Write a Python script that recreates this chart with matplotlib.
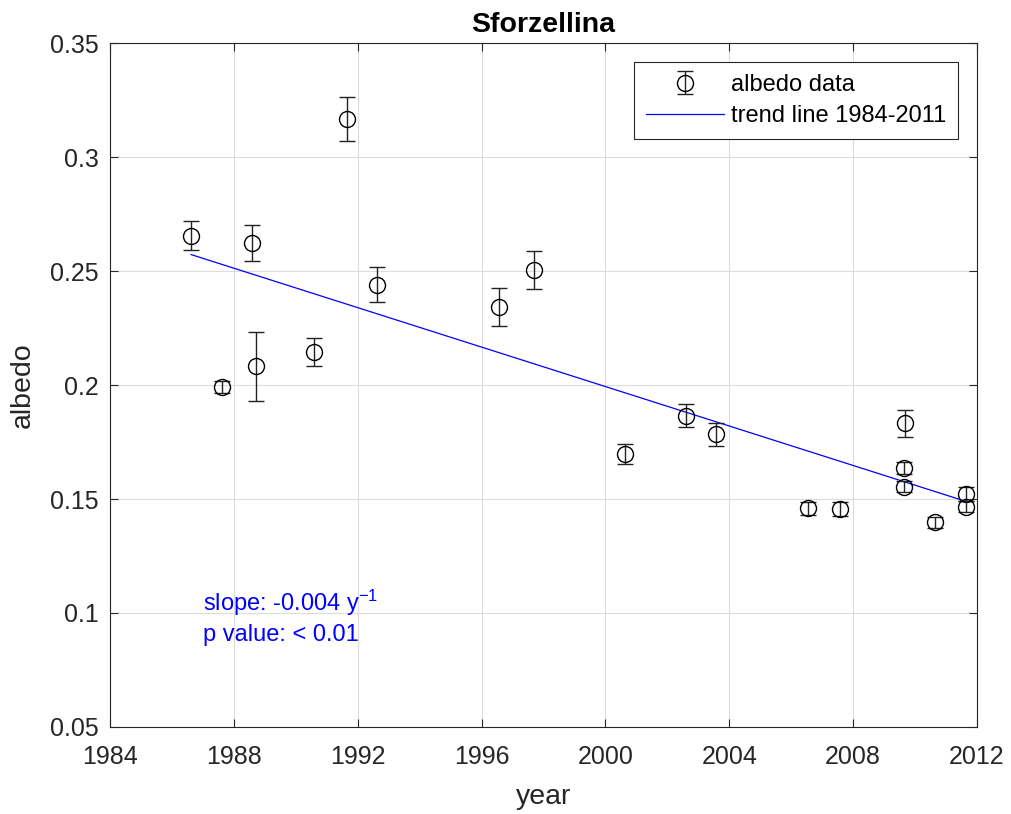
import numpy as np
import matplotlib
matplotlib.use("Agg")
import matplotlib.pyplot as plt

plt.rcParams['font.family'] = ['Liberation Sans', 'DejaVu Sans']
plt.rcParams['mathtext.fontset'] = 'custom'
plt.rcParams['mathtext.rm'] = 'Liberation Sans'
plt.rcParams['mathtext.default'] = 'regular'

years = [1986.62, 1987.62, 1988.59, 1988.72, 1990.60, 1991.67, 1992.62,
         1996.57, 1997.69, 2000.62, 2002.61, 2003.57, 2006.54, 2007.56,
         2009.67, 2009.63, 2009.64, 2010.63, 2011.63, 2011.63]
albedo = [0.2655, 0.1990, 0.2624, 0.2082, 0.2145, 0.3167, 0.2440,
          0.2341, 0.2506, 0.1698, 0.1866, 0.1783, 0.1459, 0.1455,
          0.1832, 0.1636, 0.1554, 0.1398, 0.1522, 0.1466]
albedo_err = [0.0064, 0.0026, 0.0078, 0.0152, 0.0060, 0.0097, 0.0076,
              0.0083, 0.0083, 0.0044, 0.0052, 0.0050, 0.0027, 0.0030,
              0.0059, 0.0028, 0.0025, 0.0025, 0.0030, 0.0025]

# trend line endpoints
trend_years = [1986.62, 2011.63]
trend_values = [0.2572, 0.1490]

x_ticks = [1984, 1988, 1992, 1996, 2000, 2004, 2008, 2012]
y_ticks = [0.05, 0.1, 0.15, 0.2, 0.25, 0.3, 0.35]
y_labels = ['0.05', '0.1', '0.15', '0.2', '0.25', '0.3', '0.35']

axis_col = '#262626'

fig = plt.figure(figsize=(10.11, 8.14), dpi=100)
ax = fig.add_axes([110 / 1011, 1 - 727 / 814, 867 / 1011, 684 / 814])

eb = ax.errorbar(years, albedo, yerr=albedo_err, fmt='o', mfc='none', mec='black',
                 ms=11.5, mew=1.0, ecolor='#222222', elinewidth=1.0, capsize=5.5,
                 capthick=1.0, label='albedo data', zorder=3)
tl, = ax.plot(trend_years, trend_values, color='blue', lw=0.9,
              label='trend line 1984-2011', zorder=2)

ax.text(1987, 0.1044, 'slope: -0.004 y$^{-1}$', color='blue', fontsize=17,
        va='center', ha='left')
ax.text(1987, 0.0905, 'p value: < 0.01', color='blue', fontsize=17,
        va='center', ha='left')

ax.set_xlim(1984, 2012)
ax.set_ylim(0.05, 0.35)
ax.set_xticks(x_ticks)
ax.set_yticks(y_ticks)
ax.set_yticklabels(y_labels)
ax.grid(True, color='#dcdcdc', lw=0.8)
ax.set_axisbelow(True)

ax.tick_params(direction='in', top=True, right=True, length=6, width=0.8,
               colors=axis_col, labelsize=18)
ax.tick_params(axis='x', pad=13)
ax.tick_params(axis='y', pad=8)
for sp in ax.spines.values():
    sp.set_color(axis_col)
    sp.set_linewidth(0.8)

ax.set_xlabel('year', fontsize=20.5, color=axis_col, labelpad=11)
ax.set_ylabel('albedo', fontsize=20.5, color=axis_col, labelpad=10)
ax.set_title('Sforzellina', fontsize=20.5, fontweight='bold', pad=8)

leg = ax.legend([eb, tl], ['albedo data', 'trend line 1984-2011'],
                loc='upper right', bbox_to_anchor=(0.978, 0.972), fontsize=17,
                fancybox=False, framealpha=1, edgecolor=axis_col,
                borderpad=0.5, labelspacing=0.4, handlelength=3.3,
                handletextpad=0.3, borderaxespad=0)
leg.get_frame().set_linewidth(0.8)

fig.savefig('out.png', dpi=100)
